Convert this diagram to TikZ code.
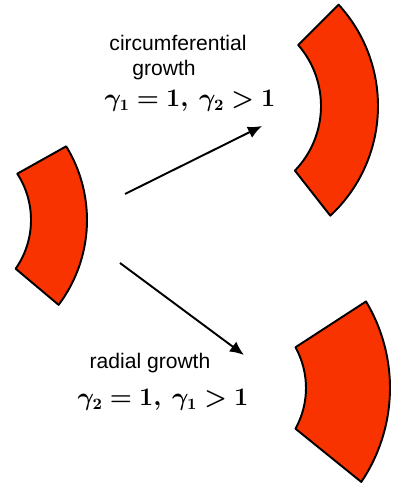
\documentclass[tikz,border=0pt]{standalone}
\usepackage{amsmath,bm}
\usepackage{fontspec}
\setmainfont{Liberation Sans}
\usetikzlibrary{calc, arrows.meta}

\definecolor{tissue}{RGB}{249,51,0}

\tikzset{
	sector/.style={fill=tissue, draw=black, line width=1.1pt, line join=round},
	growth/.style={-{Latex[length=8pt, width=7pt]}, line width=1.1pt},
	lbl/.style={inner sep=0pt, font=\fontsize{12}{14}\selectfont},
	eqn/.style={inner sep=0pt, font=\fontsize{13.5}{16}\selectfont},
}

\begin{document}
\begin{tikzpicture}[x=0.02cm, y=0.02cm]
	\useasboundingbox (0, 0) rectangle (393, 487);

	% reference sector
	\coordinate (c0) at (-54, 267);
	\draw[sector] ($(c0) + (33:85)$) arc[start angle=33, end angle=-35, radius=85]
		-- ($(c0) + (-37:141)$) arc[start angle=-37, end angle=31.5, radius=141] -- cycle;

	% circumferential growth
	\coordinate (c1) at (228, 381);
	\draw[sector] ($(c1) + (41:93)$) arc[start angle=41, end angle=-44, radius=93]
		-- ($(c1) + (-47:150)$) arc[start angle=-47, end angle=42.5, radius=150] -- cycle;

	% radial growth
	\coordinate (c2) at (222, 99);
	\draw[sector] ($(c2) + (29:84)$) arc[start angle=29, end angle=-29, radius=84]
		-- ($(c2) + (-34:168)$) arc[start angle=-34, end angle=31, radius=168] -- cycle;

	\coordinate (upS) at (125, 293);
	\coordinate (upE) at (262, 361);
	\coordinate (dnS) at (120, 224);
	\coordinate (dnE) at (244, 132);
	\draw[growth] (upS) -- (upE);
	\draw[growth] (dnS) -- (dnE);

	\node[lbl] (circ) at (178, 444) {circumferential};
	\node[lbl] (circg) at (164, 417) {growth};
	\node[eqn] (circeq) at (190, 386) {$\bm{\gamma_1 = 1,\ \gamma_2 > 1}$};

	\node[lbl] (rad) at (150, 124) {radial growth};
	\node[eqn] (radeq) at (163, 87) {$\bm{\gamma_2 = 1,\ \gamma_1 > 1}$};
\end{tikzpicture}
\end{document}
